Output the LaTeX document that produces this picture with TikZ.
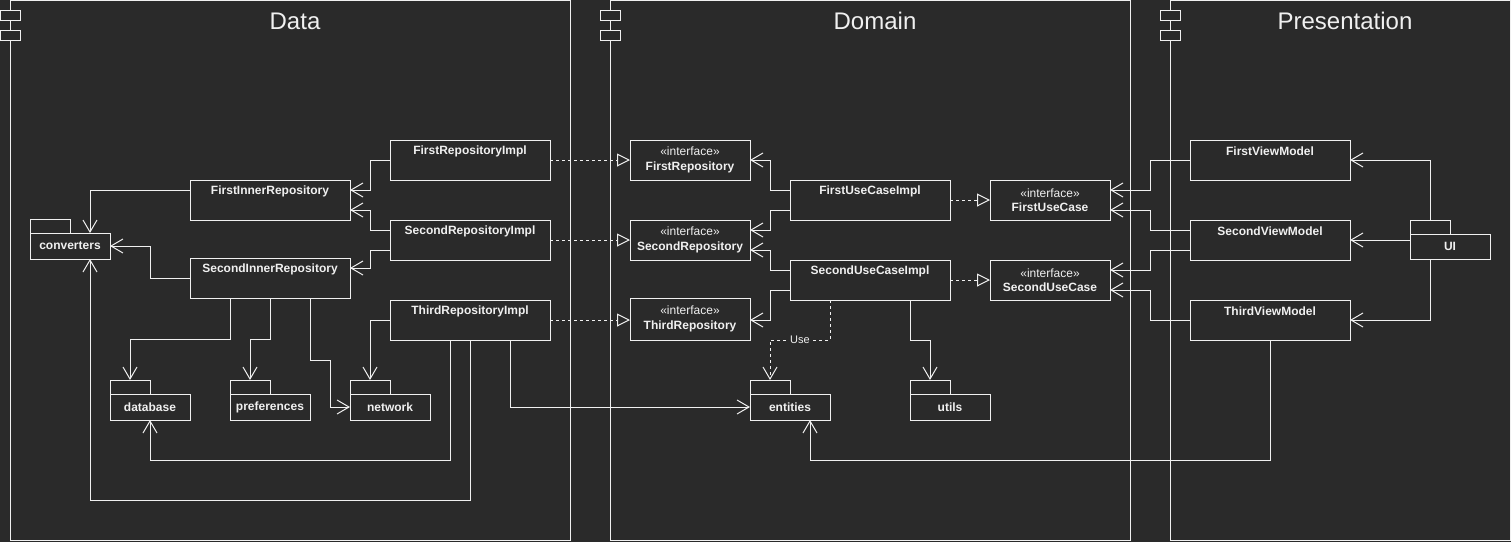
\documentclass[tikz,border=0pt]{standalone}
\usepackage{fontspec}
\setmainfont{Liberation Sans}
\usetikzlibrary{arrows.meta,calc}
\definecolor{bg}{HTML}{2A2A2A}
\definecolor{fg}{HTML}{F0F0F0}
\tikzset{
  every node/.style={text=fg},
  frameline/.style={draw=fg,line width=1pt},
  jetty/.style={draw=fg,line width=1pt,fill=bg,minimum width=20pt,minimum height=10pt,inner sep=0pt},
  title/.style={font=\fontsize{24}{28}\selectfont},
  cls/.style={draw=fg,line width=1pt,fill=bg,minimum width=160pt,minimum height=40pt,inner sep=0pt,outer sep=0pt},
  clsname/.style={font=\fontsize{12}{14}\selectfont\bfseries,inner sep=0pt},
  iface/.style={draw=fg,line width=1pt,fill=bg,minimum width=120pt,minimum height=40pt,inner sep=0pt,outer sep=0pt,align=center,font=\fontsize{12}{14.5}\selectfont},
  pkg/.style={draw=fg,line width=1pt,fill=bg,minimum width=80pt,minimum height=26pt,inner sep=0pt,outer sep=0pt,font=\fontsize{12}{14}\selectfont\bfseries},
  pkgtab/.style={draw=fg,line width=1pt,fill=bg,minimum width=40pt,minimum height=14pt,inner sep=0pt,outer sep=0pt},
  dep/.style={draw=fg,line width=1pt,-{Straight Barb[length=12pt,width=14pt,line width=1pt]}},
  real/.style={draw=fg,line width=1pt,dashed,dash pattern=on 3pt off 3pt,-{Triangle[open,length=13pt,width=13pt,line width=1pt,fill=bg]}},
  usedep/.style={draw=fg,line width=1pt,dash pattern=on 3pt off 3pt,-{Straight Barb[length=12pt,width=14pt,line width=1pt]}},
  uselbl/.style={fill=bg,inner sep=1pt,font=\fontsize{11}{13}\selectfont}
}
\newcommand{\clsbox}[4]{% name, x, y, text
  \node[cls] (#1) at (#2,#3) {};
  \node[clsname] (#1-lbl) at ($(#1.north)+(0,11)$) {#4};
}
\newcommand{\pkgbox}[4]{% name, body left x, body top y, text
  \node[pkgtab] (#1-tab) at (#2+20,#3-7) {};
  \node[pkg] (#1) at (#2+40,#3+13) {#4};
}
\begin{document}
\begin{tikzpicture}[x=1pt,y=-1pt]
\fill[bg] (0,0) rectangle (1511,542);
\useasboundingbox (0,0) rectangle (1511,542);

% component frames
\draw[frameline] (10,0.7) rectangle (570,540.3);
\node[jetty] (dataj1) at (10,15) {};
\node[jetty] (dataj2) at (10,35) {};
\node[title] (datat) at (295,21) {Data};

\draw[frameline] (610,0.7) rectangle (1130,540.3);
\node[jetty] (domj1) at (610,15) {};
\node[jetty] (domj2) at (610,35) {};
\node[title] (domt) at (875,21) {Domain};

\draw[frameline] (1170,0.7) rectangle (1510,540.3);
\node[jetty] (prej1) at (1170,15) {};
\node[jetty] (prej2) at (1170,35) {};
\node[title] (pret) at (1345,21) {Presentation};

% Data classes
\clsbox{fri}{470}{160}{FirstRepositoryImpl}
\clsbox{fir}{270}{200}{FirstInnerRepository}
\clsbox{sri}{470}{240}{SecondRepositoryImpl}
\clsbox{sir}{270}{278}{SecondInnerRepository}
\clsbox{tri}{470}{320}{ThirdRepositoryImpl}

\pkgbox{conv}{30}{233}{converters}
\pkgbox{db}{110}{394}{database}
\pkgbox{pref}{230}{394}{preferences}
\pkgbox{net}{350}{394}{network}

% Domain
\node[iface] (frepo) at (690,160) {«interface»\\\textbf{FirstRepository}};
\node[iface] (srepo) at (690,240) {«interface»\\\textbf{SecondRepository}};
\node[iface,minimum height=42pt] (trepo) at (690,319) {«interface»\\\textbf{ThirdRepository}};
\clsbox{fuci}{870}{200}{FirstUseCaseImpl}
\clsbox{suci}{870}{280}{SecondUseCaseImpl}
\node[iface] (fuc) at (1050,200) {«interface»\\\textbf{FirstUseCase}};
\node[iface] (suc) at (1050,280) {«interface»\\\textbf{SecondUseCase}};
\pkgbox{ent}{750}{394}{entities}
\pkgbox{utils}{910}{394}{utils}

% Presentation
\clsbox{fvm}{1270}{160}{FirstViewModel}
\clsbox{svm}{1270}{240}{SecondViewModel}
\clsbox{tvm}{1270}{320}{ThirdViewModel}
\node[pkgtab] (ui-tab) at (1430,227) {};
\node[pkg,minimum height=25pt] (ui) at (1450,246.5) {UI};

% Data connectors
\draw[dep] (fri.west) -- ++(-20,0) |- ([yshift=10pt]fir.east);
\draw[dep] ([yshift=10pt]sri.west) -- ++(-20,0) |- ([yshift=-10pt]fir.east);
\draw[dep] ([yshift=-10pt]sri.west) -- ++(-20,0) |- ([yshift=10pt]sir.east);
\draw[dep] ([yshift=10pt]fir.west) -| ([xshift=20pt]conv.north);
\draw[dep] (sir.west) -- ++(-40,0) |- (conv.east);
\draw[dep] (tri.south) -- ++(0,160) -| ([xshift=20pt]conv.south);
\draw[dep] ([xshift=-20pt]tri.south) -- ++(0,120) -| (db.south);
\draw[dep] ([xshift=40pt]tri.south) |- (ent.west);
\draw[dep] (tri.west) -| (net-tab.north);
\draw[dep] ([xshift=-40pt]sir.south) -- ++(0,41) -| (db-tab.north);
\draw[dep] (sir.south) -- ++(0,41) -| (pref-tab.north);
\draw[dep] ([xshift=40pt]sir.south) -- ++(0,62) -- ++(20,0) |- (net.west);

% realizations
\draw[real] (fri.east) -- (frepo.west);
\draw[real] (sri.east) -- (srepo.west);
\draw[real] (tri.east) -- (tri.east -| trepo.west);
\draw[real] (fuci.east) -- (fuc.west);
\draw[real] (suci.east) -- (suc.west);

% Domain connectors
\draw[dep] ([yshift=10pt]fuci.west) -- ++(-20,0) |- (frepo.east);
\draw[dep] ([yshift=-10pt]fuci.west) -- ++(-20,0) |- ([yshift=10pt]srepo.east);
\draw[dep] ([yshift=10pt]suci.west) -- ++(-20,0) |- ([yshift=-10pt]srepo.east);
\draw[dep] ([yshift=-10pt]suci.west) -- ++(-20,0) |- (tri.east -| trepo.east);
\draw[usedep] ([xshift=-40pt]suci.south) -- ++(0,40) -| (ent-tab.north) node[uselbl,pos=0.25] (uselabel) {Use};
\draw[dep] ([xshift=40pt]suci.south) -- ++(0,40) -| (utils-tab.north);
\draw[dep] (tvm.south) -- ++(0,120) -| ([xshift=20pt]ent.south);

% Presentation connectors
\draw[dep] (fvm.west) -- ++(-40,0) |- ([yshift=10pt]fuc.east);
\draw[dep] ([yshift=10pt]svm.west) -- ++(-40,0) |- ([yshift=-10pt]fuc.east);
\draw[dep] ([yshift=-10pt]svm.west) -- ++(-40,0) |- ([yshift=10pt]suc.east);
\draw[dep] (tvm.west) -- ++(-40,0) |- ([yshift=-10pt]suc.east);
\draw[dep] (ui-tab.north) |- (fvm.east);
\draw[dep] (ui.west |- svm.east) -- (svm.east);
\draw[dep] (ui-tab.north |- ui.south) |- (tvm.east);
\end{tikzpicture}
\end{document}
